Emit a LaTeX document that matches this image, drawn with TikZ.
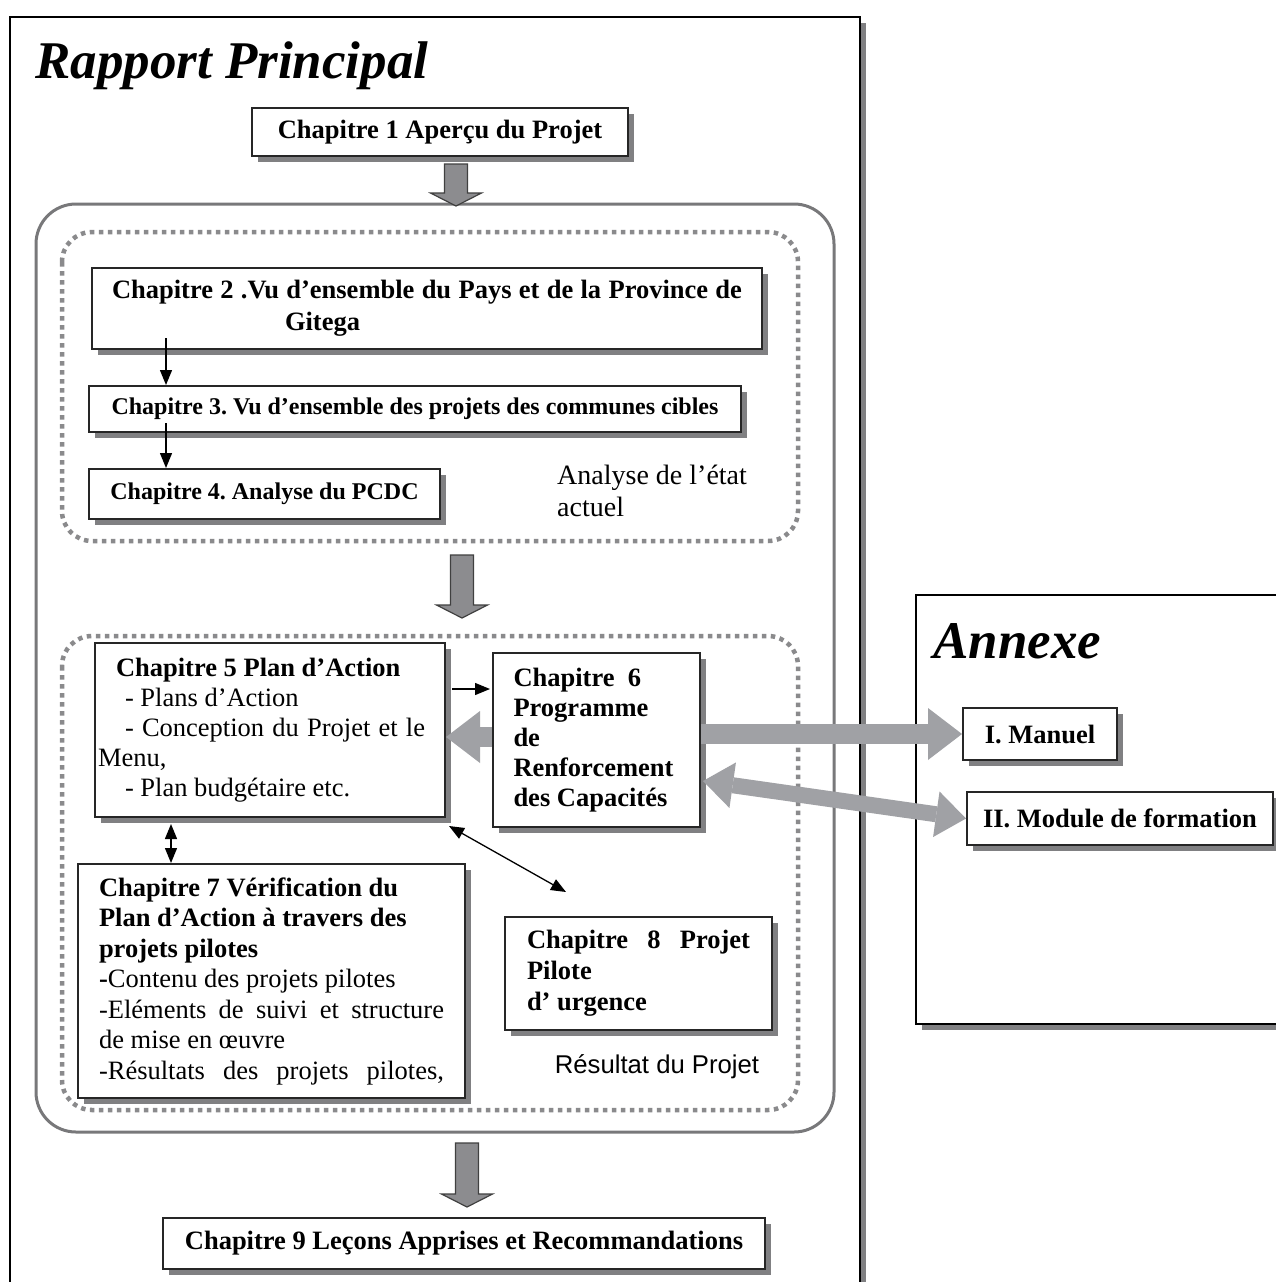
\documentclass[tikz,border=0pt]{standalone}
\usepackage{fontspec}
\setmainfont{Liberation Serif}
\setsansfont{Liberation Sans}
\usepackage{tikz}
\usetikzlibrary{calc,positioning,shadows,arrows.meta}
\frenchspacing

\definecolor{shadowgray}{RGB}{128,128,130}
\definecolor{arrowgray}{RGB}{140,140,143}
\definecolor{annexgray}{RGB}{160,161,165}
\definecolor{dotgray}{RGB}{138,138,140}
\definecolor{framegray}{RGB}{120,120,122}

\newcommand{\chapsize}{\fontsize{26.5}{31}\selectfont}
\newcommand{\titlesize}{\fontsize{53}{60}\selectfont}
% one line spread to a given width
\newcommand{\jline}[2]{\makebox[#1][s]{#2}}

% block arrow pointing down: #1 top coordinate, #2 shaft length
\newcommand{\blockdown}[2]{%
	\filldraw[blockarr] ($(#1)+(-11.5,0)$) -- ($(#1)+(11.5,0)$) -- ($(#1)+(11.5,#2)$) -- ($(#1)+(25.5,#2)$)
		-- ($(#1)+(0,#2+13)$) -- ($(#1)+(-25.5,#2)$) -- ($(#1)+(-11.5,#2)$) -- cycle;}

\tikzset{
	plainspace/.style={execute at begin node={\spaceskip=0pt\xspaceskip=0pt\relax}},
	chapbox/.style={draw=black!85,line width=2pt,fill=white,plainspace,
		general shadow={fill=shadowgray,shadow xshift=6pt,shadow yshift=-6pt},
		inner sep=0pt,font=\bfseries\chapsize},
	thinarr/.style={line width=1.3pt,-{Triangle[length=15pt,width=12pt]}},
	thinboth/.style={line width=1.3pt,{Triangle[length=15pt,width=12pt]}-{Triangle[length=15pt,width=12pt]}},
	annexarr/.style={draw=annexgray,line width=20pt,-{Triangle[length=34pt,width=52pt,line width=0pt]}},
	annexboth/.style={draw=annexgray,line width=16pt,
		{Triangle[length=30pt,width=46pt,line width=0pt]}-{Triangle[length=30pt,width=46pt,line width=0pt]}},
	blockarr/.style={draw=black!75,line width=1.2pt,fill=arrowgray},
	dotframe/.style={draw=dotgray,line width=4.5pt,dash pattern=on 4.5pt off 4.5pt,rounded corners=30pt},
}

\begin{document}
\begin{tikzpicture}[x=1pt,y=-1pt]
	\useasboundingbox (0,0) rectangle (1276,1282);
	\clip (0,0) rectangle (1276,1282);

	% the two report frames
	\fill[shadowgray] (16,23) rectangle (866,1300);
	\draw[line width=2pt,fill=white] (10,17) rectangle (860,1300);
	\fill[shadowgray] (922,601) rectangle (1300,1030);
	\draw[line width=1.6pt,fill=white] (916,595) rectangle (1300,1024);

	\node[anchor=base west,inner sep=0pt,font=\bfseries\itshape\titlesize] (titleRP) at (35,78) {Rapport Principal};
	\node[anchor=base west,inner sep=0pt,font=\bfseries\itshape\titlesize] (titleAn) at (933,658) {Annexe};

	% grouping frames
	\draw[framegray,line width=3pt,rounded corners=40pt] (36,204) rectangle (834,1132);
	\draw[dotframe] (62,232) rectangle (798,541);
	\draw[dotframe] (62,636) rectangle (798,1110);

	% chapters
	\node[chapbox,minimum width=376pt,minimum height=48pt] (ch1) at (440,132) {Chapitre 1 Aperçu du Projet};
	\node[chapbox,minimum width=670pt,minimum height=81pt,align=left,font=\bfseries\fontsize{26.5}{32}\selectfont] (ch2) at (427,308.5)
		{\jline{630pt}{Chapitre 2 .Vu d’ensemble du Pays et de la Province de}\\\hspace*{173pt}Gitega};
	\node[chapbox,minimum width=652pt,minimum height=46pt,font=\bfseries\fontsize{24}{29}\selectfont] (ch3) at (415,409)
		{Chapitre 3. Vu d’ensemble des projets des communes cibles};
	\node[chapbox,minimum width=351pt,minimum height=50pt,font=\bfseries\fontsize{24}{29}\selectfont] (ch4) at (264.5,494)
		{Chapitre 4. Analyse du PCDC};
	\node[anchor=north west,inner sep=0pt,align=left,plainspace,font=\fontsize{28}{32}\selectfont] (lblAn) at (557,465)
		{Analyse de l’état\\actuel};

	\node[chapbox,minimum width=350pt,minimum height=174pt,text width=344pt,inner xsep=3pt,align=left,font=\fontsize{26.5}{30}\selectfont] (ch5) at (270,730)
		{\hspace*{18pt}\textbf{Chapitre 5 Plan d’Action}\\
		 \hspace*{27pt}- Plans d’Action\\
		 \hspace*{27pt}\jline{300pt}{- Conception du Projet et le}\\
		 Menu,\\
		 \hspace*{27pt}- Plan budgétaire etc.};
	\node[chapbox,minimum width=207pt,minimum height=174pt,text width=166pt,inner xsep=20.5pt,align=left,font=\bfseries\fontsize{26.5}{30}\selectfont] (ch6) at (596.5,740)
		{Chapitre\ \ 6\\Programme\\de\\Renforcement\\des Capacités};
	\node[chapbox,minimum width=387pt,minimum height=234pt,text width=345pt,inner xsep=21pt,align=left,font=\fontsize{26.5}{30.5}\selectfont] (ch7) at (271.5,981)
		{\textbf{Chapitre 7 Vérification du}\\
		 \textbf{Plan d’Action à travers des}\\
		 \textbf{projets pilotes}\\
		 \textbf{-}Contenu des projets pilotes\\
		 \jline{345pt}{-Eléments de suivi et structure}\\
		 de mise en œuvre\\
		 \jline{345pt}{-Résultats des projets pilotes,}};
	\node[chapbox,minimum width=267pt,minimum height=113pt,text width=223pt,inner xsep=22pt,align=left,font=\bfseries\fontsize{26.5}{31}\selectfont] (ch8) at (638.5,973.5)
		{\jline{223pt}{Chapitre 8 Projet}\\Pilote\\d’ urgence};
	\node[inner sep=0pt,font=\sffamily\fontsize{25.7}{30}\selectfont] (lblRes) at (657,1067) {Résultat du Projet};
	\node[chapbox,minimum width=602pt,minimum height=51pt] (ch9) at (464,1243) {Chapitre 9 Leçons Apprises et Recommandations};

	% annexe
	\node[chapbox,minimum width=154pt,minimum height=52pt] (man) at (1040,734) {I. Manuel};
	\node[chapbox,minimum width=306pt,minimum height=53pt] (mod) at (1120,818.5) {II. Module de formation};

	% block arrows
	\coordinate (ar1) at (456,164);
	\coordinate (ar2) at (462,555);
	\coordinate (ar3) at (467,1143);
	\blockdown{ar1}{29}
	\blockdown{ar2}{50}
	\blockdown{ar3}{51}

	% thin arrows
	\draw[thinarr] ($(ch2.south west)+(75,-12)$) -- ($(ch3.north west)+(78,0)$);
	\draw[thinarr] ($(ch3.south west)+(78,-10)$) -- ($(ch4.north west)+(78,0)$);
	\draw[thinarr] ($(ch5.north east)+(6,47)$) -- ($(ch6.north west)+(-2,37)$);
	\draw[thinboth] ($(ch5.south west)+(77,6)$) -- ($(ch7.north west)+(94,0)$);
	\draw[thinboth] ($(ch5.south east)+(3,8)$) -- ($(ch8.north west)+(62,-24)$);

	% gray arrows
	\coordinate (g6w) at ($(ch6.west)+(0,-3)$);
	\coordinate (g6e) at ($(ch6.east)+(2,41)$);
	\draw[annexarr] (g6w) -- (g6w -| ch5.east);
	\draw[annexarr] (ch6.east |- man.west) -- (man.west);
	\draw[annexboth] (g6e) -- (mod.west);
\end{tikzpicture}
\end{document}
